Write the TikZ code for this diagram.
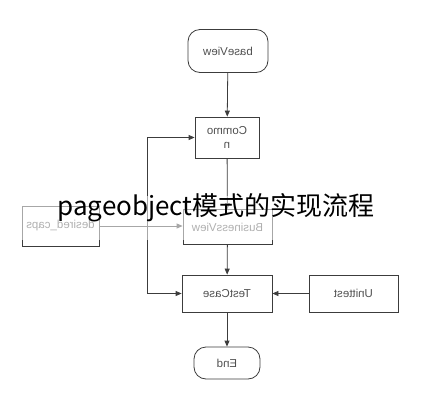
\documentclass[tikz,border=0pt]{standalone}
\usepackage{fontspec}
\setsansfont{Liberation Sans}
\newfontfamily\cjk{Noto Sans CJK SC}
\usetikzlibrary{arrows.meta}
\definecolor{linegray}{HTML}{3C3C3C}
\definecolor{textgray}{HTML}{505050}
\newcommand{\flip}[1]{\scalebox{-1}[1]{#1}}

\begin{document}
\begin{tikzpicture}[x=1pt, y=-1pt, font=\sffamily\fontsize{11.5}{14}\selectfont, >={Triangle[length=6pt,width=5pt]}]
	\useasboundingbox (0,0) rectangle (429,400);

	\node[shape=rectangle, draw=linegray, text=textgray, thick, rounded corners=12pt, minimum width=80pt, minimum height=43pt] (0) at (228,51)    {\flip{baseView}};
	\node[shape=rectangle, draw=linegray, text=textgray, thick, align=center, minimum width=64pt, minimum height=41pt]      (1) at (227,137.5) {\flip{Commo}\\\flip{n}};
	\node[shape=rectangle, draw=linegray, text=textgray, thick, minimum width=89pt, minimum height=35pt]                    (2) at (227.5,227) {\flip{BusinessView}};
	\node[shape=rectangle, draw=linegray, text=textgray, thick, minimum width=90pt, minimum height=37pt]                    (3) at (227,293.5) {\flip{TestCase}};
	\node[shape=rectangle, draw=linegray, text=textgray, thick, minimum width=77pt, minimum height=40pt]                    (4) at (60.5,226)  {\flip{desired\_caps}};
	\node[shape=rectangle, draw=linegray, text=textgray, thick, minimum width=89pt, minimum height=37pt]                    (5) at (353.5,293.5) {\flip{Unittest}};
	\node[shape=rectangle, draw=linegray, text=textgray, thick, rounded corners=12pt, minimum width=66pt, minimum height=32pt] (6) at (227,363) {\flip{End}};
	\coordinate (j) at (147,226);

	\path [->, linegray, thick] (0) edge (1);
	\path [->, linegray, thick] (1) edge (2);
	\path [->, linegray, thick] (2) edge (3);
	\path [->, linegray, thick] (5) edge (3);
	\path [->, linegray, thick] (3) edge (6);
	\path [->, linegray, thick] (4.east |- j) edge (2.west |- j);
	\draw [->, linegray, thick] (j) |- (1.west);
	\draw [->, linegray, thick] (j) |- (3.west);

	\fill [white, opacity=0.55] (18,196) rectangle (278,240);
	\node[text=black] (7) at (216,208) {\cjk\fontsize{26}{30}\selectfont pageobject模式的实现流程};
\end{tikzpicture}
\end{document}
